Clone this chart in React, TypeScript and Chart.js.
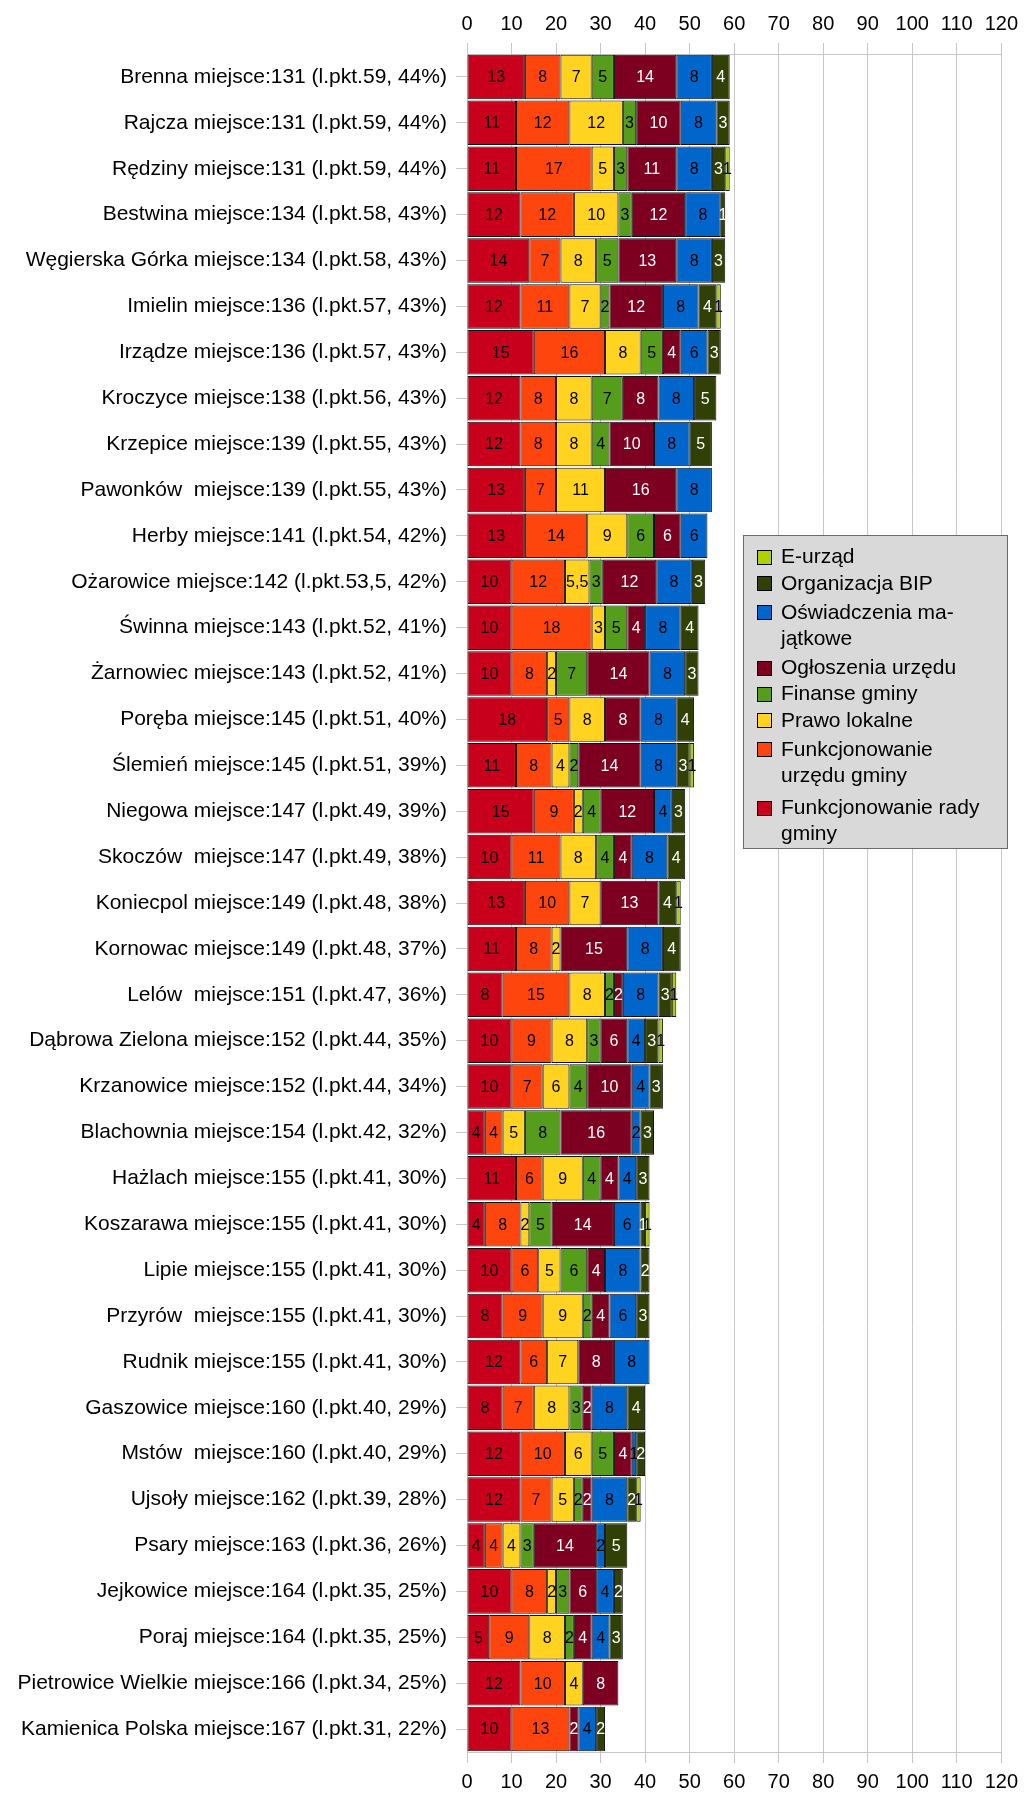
import React, { useEffect, useRef } from 'react';
import { Chart, registerables } from 'chart.js';

Chart.register(...registerables);

const categories = [
  'Brenna miejsce:131 (l.pkt.59, 44%)',
  'Rajcza miejsce:131 (l.pkt.59, 44%)',
  'Rędziny miejsce:131 (l.pkt.59, 44%)',
  'Bestwina miejsce:134 (l.pkt.58, 43%)',
  'Węgierska Górka miejsce:134 (l.pkt.58, 43%)',
  'Imielin miejsce:136 (l.pkt.57, 43%)',
  'Irządze miejsce:136 (l.pkt.57, 43%)',
  'Kroczyce miejsce:138 (l.pkt.56, 43%)',
  'Krzepice miejsce:139 (l.pkt.55, 43%)',
  'Pawonków  miejsce:139 (l.pkt.55, 43%)',
  'Herby miejsce:141 (l.pkt.54, 42%)',
  'Ożarowice miejsce:142 (l.pkt.53,5, 42%)',
  'Świnna miejsce:143 (l.pkt.52, 41%)',
  'Żarnowiec miejsce:143 (l.pkt.52, 41%)',
  'Poręba miejsce:145 (l.pkt.51, 40%)',
  'Ślemień miejsce:145 (l.pkt.51, 39%)',
  'Niegowa miejsce:147 (l.pkt.49, 39%)',
  'Skoczów  miejsce:147 (l.pkt.49, 38%)',
  'Koniecpol miejsce:149 (l.pkt.48, 38%)',
  'Kornowac miejsce:149 (l.pkt.48, 37%)',
  'Lelów  miejsce:151 (l.pkt.47, 36%)',
  'Dąbrowa Zielona miejsce:152 (l.pkt.44, 35%)',
  'Krzanowice miejsce:152 (l.pkt.44, 34%)',
  'Blachownia miejsce:154 (l.pkt.42, 32%)',
  'Hażlach miejsce:155 (l.pkt.41, 30%)',
  'Koszarawa miejsce:155 (l.pkt.41, 30%)',
  'Lipie miejsce:155 (l.pkt.41, 30%)',
  'Przyrów  miejsce:155 (l.pkt.41, 30%)',
  'Rudnik miejsce:155 (l.pkt.41, 30%)',
  'Gaszowice miejsce:160 (l.pkt.40, 29%)',
  'Mstów  miejsce:160 (l.pkt.40, 29%)',
  'Ujsoły miejsce:162 (l.pkt.39, 28%)',
  'Psary miejsce:163 (l.pkt.36, 26%)',
  'Jejkowice miejsce:164 (l.pkt.35, 25%)',
  'Poraj miejsce:164 (l.pkt.35, 25%)',
  'Pietrowice Wielkie miejsce:166 (l.pkt.34, 25%)',
  'Kamienica Polska miejsce:167 (l.pkt.31, 22%)',
];

const funkcjonowanieRady = [13, 11, 11, 12, 14, 12, 15, 12, 12, 13, 13, 10, 10, 10, 18, 11, 15, 10, 13, 11, 8, 10, 10, 4, 11, 4, 10, 8, 12, 8, 12, 12, 4, 10, 5, 12, 10];
const funkcjonowanieUrzedu = [8, 12, 17, 12, 7, 11, 16, 8, 8, 7, 14, 12, 18, 8, 5, 8, 9, 11, 10, 8, 15, 9, 7, 4, 6, 8, 6, 9, 6, 7, 10, 7, 4, 8, 9, 10, 13];
const prawoLokalne = [7, 12, 5, 10, 8, 7, 8, 8, 8, 11, 9, 5.5, 3, 2, 8, 4, 2, 8, 7, 2, 8, 8, 6, 5, 9, 2, 5, 9, 7, 8, 6, 5, 4, 2, 8, 4, 0];
const finanseGminy = [5, 3, 3, 3, 5, 2, 5, 7, 4, 0, 6, 3, 5, 7, 0, 2, 4, 4, 0, 0, 2, 3, 4, 8, 4, 5, 6, 2, 0, 3, 5, 2, 3, 3, 2, 0, 0];
const ogloszeniaUrzedu = [14, 10, 11, 12, 13, 12, 4, 8, 10, 16, 6, 12, 4, 14, 8, 14, 12, 4, 13, 15, 2, 6, 10, 16, 4, 14, 4, 4, 8, 2, 4, 2, 14, 6, 4, 8, 2];
const oswiadczeniaMajatkowe = [8, 8, 8, 8, 8, 8, 6, 8, 8, 8, 6, 8, 8, 8, 8, 8, 4, 8, 0, 8, 8, 4, 4, 2, 4, 6, 8, 6, 8, 8, 1, 8, 2, 4, 4, 0, 4];
const organizacjaBip = [4, 3, 3, 1, 3, 4, 3, 5, 5, 0, 0, 3, 4, 3, 4, 3, 3, 4, 4, 4, 3, 3, 3, 3, 3, 1, 2, 3, 0, 4, 2, 2, 5, 2, 3, 0, 2];
const eUrzad = [0, 0, 1, 0, 0, 1, 0, 0, 0, 0, 0, 0, 0, 0, 0, 1, 0, 0, 1, 0, 1, 1, 0, 0, 0, 1, 0, 0, 0, 0, 0, 1, 0, 0, 0, 0, 0];

const seriesNames = [
  'Funkcjonowanie rady gminy',
  'Funkcjonowanie urzędu gminy',
  'Prawo lokalne',
  'Finanse gminy',
  'Ogłoszenia urzędu',
  'Oświadczenia majątkowe',
  'Organizacja BIP',
  'E-urząd',
];
const seriesValues = [
  funkcjonowanieRady,
  funkcjonowanieUrzedu,
  prawoLokalne,
  finanseGminy,
  ogloszeniaUrzedu,
  oswiadczeniaMajatkowe,
  organizacjaBip,
  eUrzad,
];
const seriesColors = ['#c9001b', '#ff450e', '#ffd320', '#579d1c', '#7e0021', '#0066cc', '#314004', '#aecf00'];
const labelColors = ['#000', '#000', '#000', '#000', '#fff', '#000', '#fff', '#000'];

// legend text lines (reverse order of datasets, as in the reference)
const legendLines: string[][] = [
  ['E-urząd'],
  ['Organizacja BIP'],
  ['Oświadczenia ma-', 'jątkowe'],
  ['Ogłoszenia urzędu'],
  ['Finanse gminy'],
  ['Prawo lokalne'],
  ['Funkcjonowanie', 'urzędu gminy'],
  ['Funkcjonowanie rady', 'gminy'],
];

const xTicks = { min: 0, max: 120, step: 10 };
const FONT = "'Liberation Sans', Arial, sans-serif";

const valueLabels = {
  id: 'valueLabels',
  afterDatasetsDraw(chart: any) {
    const ctx = chart.ctx;
    ctx.save();
    ctx.font = `16px ${FONT}`;
    ctx.textAlign = 'center';
    ctx.textBaseline = 'middle';
    chart.data.datasets.forEach((ds: any, di: number) => {
      const meta = chart.getDatasetMeta(di);
      meta.data.forEach((el: any, i: number) => {
        const v = ds.data[i];
        if (v === null || v === undefined) return;
        const cx = (el.x + el.base) / 2;
        ctx.fillStyle = labelColors[di];
        ctx.fillText(String(v).replace('.', ','), cx, el.y + 1);
      });
    });
    ctx.restore();
  },
};

const boxLegend = {
  id: 'boxLegend',
  afterDraw(chart: any) {
    const ctx = chart.ctx;
    const left = 743.5;
    const top = 535.5;
    const right = 1007.5;
    const bottom = 848.5;
    ctx.save();
    ctx.fillStyle = '#d9d9d9';
    ctx.fillRect(left, top, right - left, bottom - top);
    ctx.strokeStyle = '#6b6b6b';
    ctx.lineWidth = 1;
    ctx.strokeRect(left, top, right - left, bottom - top);
    ctx.font = `21px ${FONT}`;
    ctx.textAlign = 'left';
    ctx.textBaseline = 'middle';
    const n = chart.data.datasets.length;
    let y = 556.7;
    const step = 26.2;
    legendLines.forEach((lines, k) => {
      const di = n - 1 - k;
      const multi = lines.length > 1;
      if (multi && k > 0) y += 3;
      ctx.fillStyle = chart.data.datasets[di].backgroundColor;
      ctx.fillRect(757, Math.round(y) - 7, 15, 15);
      ctx.strokeStyle = '#000';
      ctx.strokeRect(757.5, Math.round(y) - 6.5, 14, 14);
      ctx.fillStyle = '#000';
      lines.forEach((t, li) => {
        ctx.fillText(t, 781, y + li * step + 1);
      });
      y += lines.length * step;
      if (multi) y += 3;
    });
    ctx.restore();
  },
};

export default function App() {
  const ref = useRef<HTMLCanvasElement | null>(null);
  useEffect(() => {
    document.body.style.margin = '0';
    document.body.style.overflow = 'hidden';
    const canvas = ref.current;
    if (!canvas) return;
    const gridColor = '#c6c6c6';
    const tickFont = { family: FONT, size: 20 };
    const chart = new Chart(canvas, {
      type: 'bar',
      data: {
        labels: categories,
        datasets: seriesNames.map((name, i) => ({
          label: name,
          data: seriesValues[i].map((v) => (v === 0 ? null : v)),
          backgroundColor: seriesColors[i],
          borderColor: '#111',
          borderWidth: 1,
          borderSkipped: false,
          barPercentage: 1,
          categoryPercentage: 0.97,
          xAxisID: 'x',
        })),
      },
      options: {
        indexAxis: 'y',
        responsive: false,
        animation: false,
        devicePixelRatio: 1,
        layout: { padding: { left: 0, right: 21, top: 0, bottom: 0 } },
        plugins: {
          legend: { display: false },
          tooltip: { enabled: false },
        },
        scales: {
          x: {
            type: 'linear',
            position: 'bottom',
            stacked: true,
            min: xTicks.min,
            max: xTicks.max,
            ticks: { stepSize: xTicks.step, font: tickFont, color: '#000', padding: 7 },
            grid: { color: gridColor, tickLength: 11, drawTicks: true },
            border: { display: true, color: gridColor },
            afterFit: (s: any) => {
              s.height = 41;
            },
          },
          x2: {
            type: 'linear',
            position: 'top',
            min: xTicks.min,
            max: xTicks.max,
            ticks: { stepSize: xTicks.step, font: tickFont, color: '#000', padding: 7 },
            grid: { color: gridColor, tickLength: 11, drawOnChartArea: false },
            border: { display: true, color: gridColor },
            afterFit: (s: any) => {
              s.height = 54;
            },
          },
          y: {
            stacked: true,
            ticks: { font: { family: FONT, size: 21 }, color: '#000', padding: 9, autoSkip: false },
            grid: { offset: false, drawOnChartArea: false, tickLength: 11, color: gridColor },
            border: { display: true, color: gridColor },
            afterFit: (s: any) => {
              s.width = 467;
            },
          },
        },
      } as any,
      plugins: [valueLabels, boxLegend],
    });
    return () => chart.destroy();
  }, []);
  return (
    <div style={{ position: 'absolute', left: 0, top: 0, width: 1025, height: 1793 }}>
      <canvas ref={ref} width={1025} height={1793} style={{ width: 1025, height: 1793, display: 'block' }} />
    </div>
  );
}
